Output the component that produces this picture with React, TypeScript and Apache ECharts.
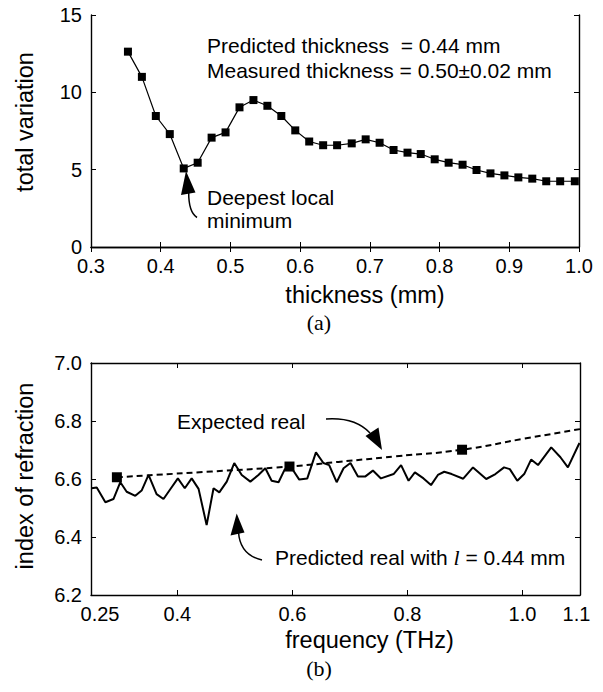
import React, { useEffect, useRef } from "react";
import * as echarts from "echarts";

// ---- Panel (a): total variation vs thickness ----
const thicknessMm = [
  0.353, 0.373, 0.393, 0.413, 0.433, 0.453, 0.473, 0.493, 0.513, 0.533, 0.553,
  0.573, 0.593, 0.613, 0.633, 0.653, 0.674, 0.694, 0.714, 0.734, 0.754, 0.773,
  0.793, 0.813, 0.833, 0.853, 0.873, 0.893, 0.913, 0.933, 0.953, 0.973, 0.994,
];
const totalVariation = [
  12.63, 11.0, 8.47, 7.3, 5.08, 5.45, 7.07, 7.41, 9.03, 9.5, 9.13,
  8.47, 7.54, 6.82, 6.58, 6.58, 6.7, 6.96, 6.74, 6.27, 6.1, 6.01,
  5.67, 5.45, 5.32, 4.98, 4.76, 4.63, 4.5, 4.42, 4.25, 4.25, 4.25,
];

// ---- Panel (b): index of refraction vs frequency ----
const predFreq = [
  0.251, 0.26, 0.275, 0.289, 0.301, 0.312, 0.327, 0.338, 0.35, 0.364, 0.376,
  0.389, 0.401, 0.413, 0.425, 0.437, 0.451, 0.463, 0.473, 0.486, 0.499, 0.512,
  0.527, 0.541, 0.553, 0.564, 0.576, 0.587, 0.599, 0.612, 0.626, 0.641, 0.654,
  0.664, 0.677, 0.689, 0.701, 0.714, 0.727, 0.74, 0.754, 0.776, 0.789, 0.802,
  0.813, 0.828, 0.841, 0.853, 0.864, 0.877, 0.897, 0.914, 0.937, 0.953, 0.968,
  0.978, 0.991, 1.003, 1.015, 1.027, 1.05, 1.066, 1.079, 1.099,
];
const predReal = [
  6.568, 6.571, 6.52, 6.531, 6.589, 6.556, 6.542, 6.56, 6.614, 6.548, 6.531,
  6.568, 6.602, 6.568, 6.602, 6.566, 6.441, 6.568, 6.554, 6.591, 6.655, 6.614,
  6.591, 6.614, 6.637, 6.594, 6.589, 6.634, 6.637, 6.598, 6.602, 6.692, 6.655,
  6.648, 6.589, 6.637, 6.655, 6.609, 6.609, 6.629, 6.602, 6.617, 6.648, 6.594,
  6.623, 6.602, 6.579, 6.614, 6.625, 6.617, 6.601, 6.64, 6.6, 6.617, 6.64,
  6.634, 6.594, 6.617, 6.667, 6.648, 6.709, 6.675, 6.64, 6.724,
];
const expFreq = [0.295, 0.46, 0.595, 0.68, 0.779, 0.895, 1.0, 1.1];
const expReal = [6.606, 6.626, 6.643, 6.659, 6.678, 6.701, 6.738, 6.772];
const markerFreq = [0.295, 0.595, 0.895];
const markerReal = [6.606, 6.643, 6.701];
const freqLabelValues = [0.25, 0.4, 0.6, 0.8, 1.0, 1.1];
const freqTickValues = [0.4, 0.6, 0.8, 1.0];

const SANS = "'Liberation Sans', Arial, sans-serif";
const SERIF = "'Liberation Serif', 'Times New Roman', serif";
const BLACK = "#000";
const ANN = `21px ${SANS}`;

export default function App() {
  const ref = useRef<HTMLDivElement>(null);

  useEffect(() => {
    if (!ref.current) return;
    const chart = echarts.init(ref.current, undefined, { renderer: "svg" });

    const axisLine = { show: true, lineStyle: { color: BLACK, width: 1.4 } };
    const tickStyle = { inside: true, length: 5, lineStyle: { color: BLACK, width: 1 } };
    const labelStyle = { color: BLACK, fontFamily: SANS, fontSize: 20 };
    const nameStyle = { color: BLACK, fontFamily: SANS, fontSize: 23.5 };

    const option: any = {
      animation: false,
      backgroundColor: "#fff",
      grid: [
        { left: 91, right: 24, top: 15, height: 232 },
        { left: 91, right: 23, top: 363, height: 232 },
      ],
      xAxis: [
        {
          type: "value", gridIndex: 0, min: 0.3, max: 1.0, interval: 0.1,
          axisLine, axisTick: tickStyle, splitLine: { show: false },
          axisLabel: { ...labelStyle, margin: 9, formatter: (v: number) => v.toFixed(1) },
          name: "thickness (mm)", nameLocation: "middle", nameGap: 36,
          nameTextStyle: { ...nameStyle, padding: [0, 0, 0, 60] },
        },
        {
          type: "value", gridIndex: 0, position: "top", min: 0.3, max: 1.0, interval: 0.1,
          axisLine, axisTick: tickStyle, axisLabel: { show: false }, splitLine: { show: false },
        },
        {
          type: "value", gridIndex: 1, min: 0.25, max: 1.1,
          axisLine, splitLine: { show: false },
          axisTick: { ...tickStyle, customValues: freqTickValues },
          axisLabel: {
            ...labelStyle, margin: 9, customValues: freqLabelValues,
            formatter: (v: number) => {
              if (Math.abs(v - 0.25) < 1e-6) return "{first|0.25}";
              if (Math.abs(v - 1.1) < 1e-6) return "{last|1.1}";
              return v.toFixed(1);
            },
            rich: {
              first: { ...labelStyle, padding: [0, 0, 0, 18] },
              last: { ...labelStyle, padding: [0, 7, 0, 0] },
            },
          },
          name: "frequency (THz)", nameLocation: "middle", nameGap: 33,
          nameTextStyle: { ...nameStyle, padding: [0, 0, 0, 68] },
        },
        {
          type: "value", gridIndex: 1, position: "top", min: 0.25, max: 1.1,
          axisLine, splitLine: { show: false },
          axisTick: { ...tickStyle, customValues: freqTickValues },
          axisLabel: { show: false },
        },
      ],
      yAxis: [
        {
          type: "value", gridIndex: 0, min: 0, max: 15, interval: 5,
          axisLine, axisTick: tickStyle, splitLine: { show: false },
          axisLabel: { ...labelStyle, margin: 9 },
          name: "total variation", nameLocation: "middle", nameGap: 54,
          nameTextStyle: { ...nameStyle, padding: [0, 0, 0, 18] },
        },
        {
          type: "value", gridIndex: 0, position: "right", min: 0, max: 15, interval: 5,
          axisLine, axisTick: tickStyle, axisLabel: { show: false }, splitLine: { show: false },
        },
        {
          type: "value", gridIndex: 1, min: 6.2, max: 7.0, interval: 0.2,
          axisLine, axisTick: tickStyle, splitLine: { show: false },
          axisLabel: { ...labelStyle, margin: 9, formatter: (v: number) => v.toFixed(1) },
          name: "index of refraction", nameLocation: "middle", nameGap: 54,
          nameTextStyle: { ...nameStyle, padding: [0, 0, 0, 6] },
        },
        {
          type: "value", gridIndex: 1, position: "right", min: 6.2, max: 7.0, interval: 0.2,
          axisLine, axisTick: tickStyle, axisLabel: { show: false }, splitLine: { show: false },
        },
      ],
      series: [
        {
          type: "line", xAxisIndex: 0, yAxisIndex: 0,
          data: thicknessMm.map((x, i) => [x, totalVariation[i]]),
          symbol: "rect", symbolSize: 8, showSymbol: true,
          lineStyle: { color: BLACK, width: 1.2 }, itemStyle: { color: BLACK, opacity: 1 },
        },
        {
          type: "line", xAxisIndex: 2, yAxisIndex: 2,
          data: predFreq.map((x, i) => [x, predReal[i]]),
          showSymbol: false, symbol: "none",
          lineStyle: { color: BLACK, width: 2 },
        },
        {
          type: "line", xAxisIndex: 2, yAxisIndex: 2, smooth: true,
          data: expFreq.map((x, i) => [x, expReal[i]]),
          showSymbol: false, symbol: "none",
          lineStyle: { color: BLACK, width: 2, type: [6, 4] },
        },
        {
          type: "scatter", xAxisIndex: 2, yAxisIndex: 2,
          data: markerFreq.map((x, i) => [x, markerReal[i]]),
          symbol: "rect", symbolSize: 10, itemStyle: { color: BLACK, opacity: 1 },
        },
      ],
      graphic: [
        // panel (a) annotations
        { type: "text", style: { text: "Predicted thickness  = 0.44 mm", x: 207, y: 45, fill: BLACK, font: ANN, verticalAlign: "middle" } },
        { type: "text", style: { text: "Measured thickness = 0.50±0.02 mm", x: 207, y: 70, fill: BLACK, font: ANN, verticalAlign: "middle" } },
        { type: "text", style: { text: "Deepest local", x: 207, y: 197, fill: BLACK, font: ANN, verticalAlign: "middle" } },
        { type: "text", style: { text: "minimum", x: 207, y: 220, fill: BLACK, font: ANN, verticalAlign: "middle" } },
        { type: "bezierCurve", shape: { x1: 197, y1: 217.5, x2: 188.7, y2: 192, cpx1: 188.5, cpy1: 212 }, style: { stroke: BLACK, lineWidth: 1.5, fill: "none" } },
        { type: "polygon", shape: { points: [[186, 171], [181, 195], [195.5, 192.5]] }, style: { fill: BLACK } },
        { type: "text", style: { text: "(a)", x: 319, y: 322, fill: BLACK, font: `22px ${SERIF}`, align: "center", verticalAlign: "middle" } },
        // panel (b) annotations
        { type: "text", style: { text: "Expected real", x: 177, y: 421, fill: BLACK, font: ANN, verticalAlign: "middle" } },
        { type: "bezierCurve", shape: { x1: 326, y1: 419, x2: 370, y2: 433, cpx1: 355, cpy1: 417 }, style: { stroke: BLACK, lineWidth: 1.5, fill: "none" } },
        { type: "polygon", shape: { points: [[365.5, 436], [378.5, 427.5], [382, 450]] }, style: { fill: BLACK } },
        {
          type: "text",
          style: {
            text: "Predicted real with {i|l} = 0.44 mm", x: 275, y: 557, fill: BLACK,
            font: ANN, verticalAlign: "middle",
            rich: { i: { fontFamily: SERIF, fontStyle: "italic", fontSize: 22, fill: BLACK } },
          },
        },
        { type: "bezierCurve", shape: { x1: 238.5, y1: 532, x2: 262, y2: 560, cpx1: 240, cpy1: 555 }, style: { stroke: BLACK, lineWidth: 1.5, fill: "none" } },
        { type: "polygon", shape: { points: [[236.7, 513.5], [230.5, 535.5], [244.5, 532.5]] }, style: { fill: BLACK } },
        { type: "text", style: { text: "(b)", x: 319, y: 668, fill: BLACK, font: `22px ${SERIF}`, align: "center", verticalAlign: "middle" } },
      ],
    };

    chart.setOption(option);
    return () => chart.dispose();
  }, []);

  return (
    <div
      ref={ref}
      style={{ position: "fixed", left: 0, top: 0, width: 603, height: 692, background: "#fff" }}
    />
  );
}
